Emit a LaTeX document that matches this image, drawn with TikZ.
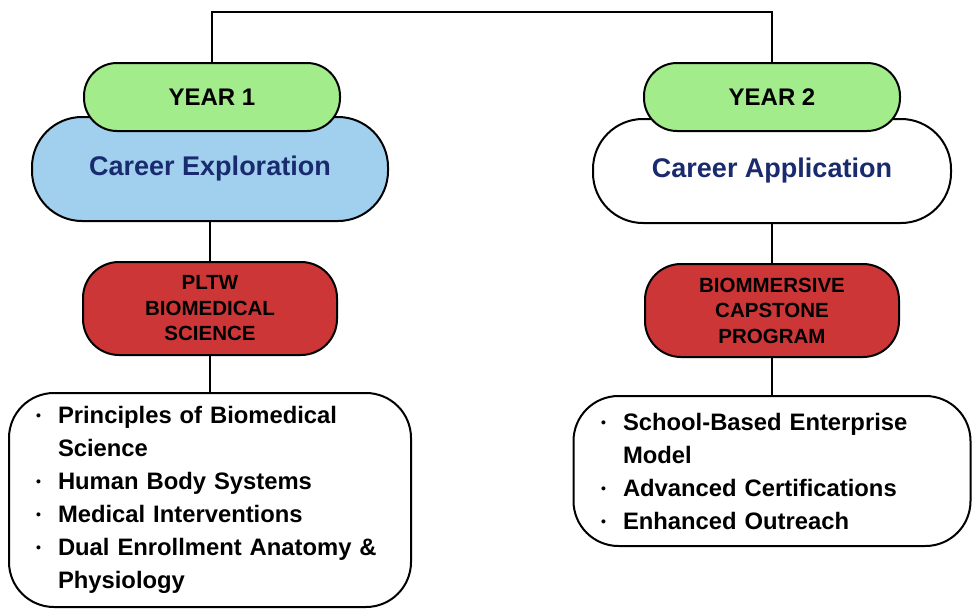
\documentclass[tikz,border=0pt]{standalone}
\usepackage{fontspec}
\setmainfont{Liberation Sans}
\usetikzlibrary{positioning}

\definecolor{yeargreen}{RGB}{163,236,140}
\definecolor{phaseblue}{RGB}{160,208,238}
\definecolor{courseRed}{RGB}{204,54,54}
\definecolor{navy}{RGB}{26,42,110}

\newcommand{\bitem}[1]{\hangindent=29pt\hangafter=1\noindent
  \makebox[29pt][l]{\hspace{7pt}\raisebox{3pt}{\fontsize{14}{14}\selectfont\textbullet}}#1\par}

\begin{document}
\begin{tikzpicture}[x=1pt,y=-1pt,line width=2pt,
    year node/.style={draw,fill=yeargreen,rounded corners=33pt,minimum width=256pt,
                      minimum height=68pt,font=\fontsize{24}{30}\selectfont\bfseries},
    phase node/.style={draw,rounded corners=50pt,minimum width=356pt,minimum height=104pt,
                       text=navy,font=\fontsize{27}{32}\selectfont\bfseries},
    course node/.style={draw,fill=courseRed,rounded corners=36pt,minimum width=254pt,
                        minimum height=93pt,align=center,
                        font=\fontsize{20.5}{25.5}\selectfont\bfseries},
    list node/.style={draw,fill=white,rounded corners=45pt,inner xsep=0pt,align=left,
                      font=\fontsize{23.8}{33}\selectfont\bfseries}]

  \useasboundingbox (0,0) rectangle (972,613);

  % year 1
  \node[phase node,fill=phaseblue] (ce) at (210,169) {Career Exploration};
  \node[year node] (y1) at (212,97) {YEAR 1};
  \node[course node] (pl) [below=39pt of ce] {PLTW\\BIOMEDICAL\\SCIENCE};
  \node[list node,text width=362pt,minimum width=402pt,minimum height=214pt] (l1) [below=36pt of pl]
    {\bitem{Principles of Biomedical\newline Science}
     \bitem{Human Body Systems}
     \bitem{Medical Interventions}
     \bitem{Dual Enrollment Anatomy \&\newline Physiology}};

  % year 2
  \node[phase node,fill=white,minimum width=358pt] (ca) at (772,171) {Career Application};
  \node[year node] (y2) at (772,97) {YEAR 2};
  \node[course node] (bc) [below=39pt of ca] {BIOMMERSIVE\\CAPSTONE\\PROGRAM};
  \node[list node,text width=356pt,minimum width=397pt,minimum height=150pt] (l2) [below=37pt of bc]
    {\bitem{School-Based Enterprise\newline Model}
     \bitem{Advanced Certifications}
     \bitem{Enhanced Outreach}};

  % connectors
  \coordinate (top) at (212,12);
  \draw (y1.north) |- (top) -| (y2.north);
  \draw (ce.south) -- (pl.north);
  \draw (pl.south) -- (l1.north);
  \draw (ca.south) -- (bc.north);
  \draw (bc.south) -- (l2.north);
\end{tikzpicture}
\end{document}
